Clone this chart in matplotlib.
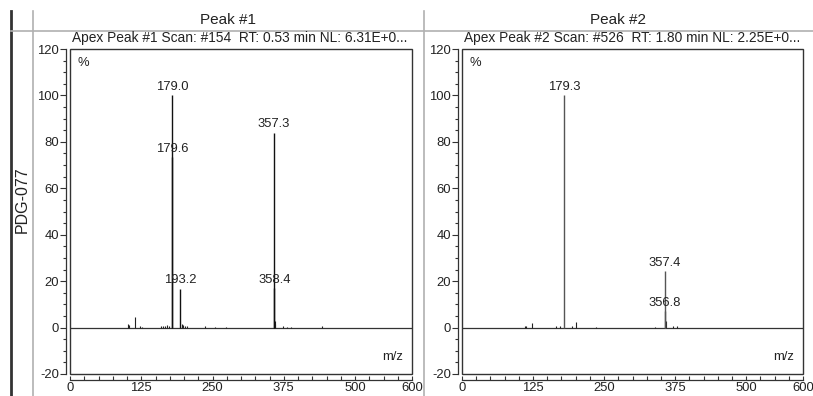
import matplotlib
matplotlib.use("Agg")
import matplotlib.pyplot as plt
from matplotlib.patches import Rectangle
from matplotlib.lines import Line2D
import numpy as np

plt.rcParams['font.family'] = ['Liberation Sans', 'DejaVu Sans']
plt.rcParams['axes.unicode_minus'] = False

# ---------------- data ----------------
panel_titles = ["Peak #1", "Peak #2"]
scan_titles = ["Apex Peak #1 Scan: #154  RT: 0.53 min NL: 6.31E+0...",
               "Apex Peak #2 Scan: #526  RT: 1.80 min NL: 2.25E+0..."]
row_label = "PDG-077"

# labelled peaks
p1_mz = [179.0, 179.6, 193.2, 357.3, 358.4]
p1_int = [100.0, 73.5, 16.8, 84.0, 17.2]
p1_lab = ["179.0", "179.6", "193.2", "357.3", "358.4"]

p2_mz = [179.3, 356.8, 357.4]
p2_int = [100.0, 7.0, 24.2]
p2_lab = ["179.3", "356.8", "357.4"]

# minor (unlabelled) peaks
p1_small_mz = [101, 103, 114, 122, 127, 160, 163, 166, 170, 174, 196, 198, 201, 205,
               237, 254, 274, 359.5, 360.5, 373, 380, 387, 442]
p1_small_int = [1.7, 1.2, 4.6, 0.5, 0.4, 0.6, 0.8, 0.7, 1.0, 0.6, 1.5, 1.2, 0.8, 0.5,
                0.5, 0.3, 0.3, 3.0, 1.5, 0.5, 0.4, 0.4, 0.7]

p2_small_mz = [111, 113, 123, 165, 172, 193, 200, 235, 340, 358.2, 371, 378]
p2_small_int = [0.6, 0.6, 1.8, 0.6, 0.6, 0.7, 2.3, 0.4, 0.4, 3.0, 0.6, 0.5]

x_ticks = [0, 125, 250, 375, 500, 600]
y_ticks = [-20, 0, 20, 40, 60, 80, 100, 120]

# ---------------- figure ----------------
W, H = 813, 396
fig = plt.figure(figsize=(W / 100, H / 100), dpi=100)
fig.patch.set_facecolor("white")

def fx(px):
    return px / W

def fy(py):
    return 1 - py / H

grid_col = "#b0b0b0"
txt_col = "#222222"
ax_col = "#333333"

# frame lines
fig.add_artist(Line2D([fx(11), fx(11)], [fy(11), fy(396)], color="#333333", lw=2.0))
fig.add_artist(Line2D([fx(33), fx(33)], [fy(11), fy(396)], color=grid_col, lw=1.2))
fig.add_artist(Line2D([fx(424), fx(424)], [fy(11), fy(396)], color=grid_col, lw=1.2))
fig.add_artist(Line2D([fx(11), fx(813)], [fy(31), fy(31)], color=grid_col, lw=1.2))

fig.text(fx(22), fy(200), row_label, rotation=90, ha="center", va="center",
         fontsize=11.5, color=txt_col)

boxes = [(70, 412), (462, 803)]
box_top, box_bot = 49, 374
centers = [228, 618]

peaks = [
    (p1_mz, p1_int, p1_lab, p1_small_mz, p1_small_int),
    (p2_mz, p2_int, p2_lab, p2_small_mz, p2_small_int),
]

fs = 9.4

for i, (x0, x1) in enumerate(boxes):
    ax = fig.add_axes([fx(x0), fy(box_bot), (x1 - x0) / W, (box_bot - box_top) / H])
    ax.set_xlim(0, 600)
    ax.set_ylim(-20, 120)
    ax.set_facecolor("white")
    for s in ["top", "right"]:
        ax.spines[s].set_visible(False)
    ax.spines["left"].set_position(("outward", 3))
    ax.spines["bottom"].set_position(("outward", 4))
    for s in ["left", "bottom"]:
        ax.spines[s].set_color(ax_col)
        ax.spines[s].set_linewidth(0.9)
    ax.add_patch(Rectangle((0, 0), 1, 1, transform=ax.transAxes, fill=False,
                           edgecolor=ax_col, lw=1.0, clip_on=False, zorder=5))

    ax.set_yticks(y_ticks)
    ax.set_yticks(np.arange(-20, 121, 5), minor=True)
    ax.set_xticks(x_ticks)
    ax.set_xticks(np.arange(0, 601, 25), minor=True)
    ax.tick_params(axis="y", which="major", direction="out", length=4, width=0.8,
                   color=ax_col, labelsize=fs, labelcolor=txt_col, pad=1)
    ax.tick_params(axis="y", which="minor", direction="out", length=2.2, width=0.8,
                   color=ax_col)
    ax.tick_params(axis="x", which="both", direction="in", length=3, width=0.8,
                   color=ax_col, labelsize=fs, labelcolor=txt_col, pad=2)

    mz, inten, lab, smz, sint = peaks[i]
    ax.axhline(0, color=ax_col, lw=0.9, zorder=2)
    ax.vlines(smz, 0, sint, color="#222222", lw=0.8, zorder=3)
    col = "#111111" if i == 0 else "#555555"
    ax.vlines(mz, 0, inten, color=col, lw=1.0, zorder=3)
    for m, v, t in zip(mz, inten, lab):
        ax.annotate(t, (m, v), xytext=(0, 1.5), textcoords="offset points",
                    ha="center", va="bottom", fontsize=fs, color=txt_col, zorder=4)

    ax.text(0.022, 0.975, "%", transform=ax.transAxes, ha="left", va="top",
            fontsize=fs, color=txt_col)
    ax.text(0.975, 0.035, "m/z", transform=ax.transAxes, ha="right", va="bottom",
            fontsize=fs, color=txt_col)

    fig.text(fx(x0 + 2), fy(38), scan_titles[i], ha="left", va="center",
             fontsize=9.9, color=txt_col)
    fig.text(fx(centers[i]), fy(20), panel_titles[i], ha="center", va="center",
             fontsize=11, color=txt_col)

fig.savefig("out.png", dpi=100, facecolor="white")
